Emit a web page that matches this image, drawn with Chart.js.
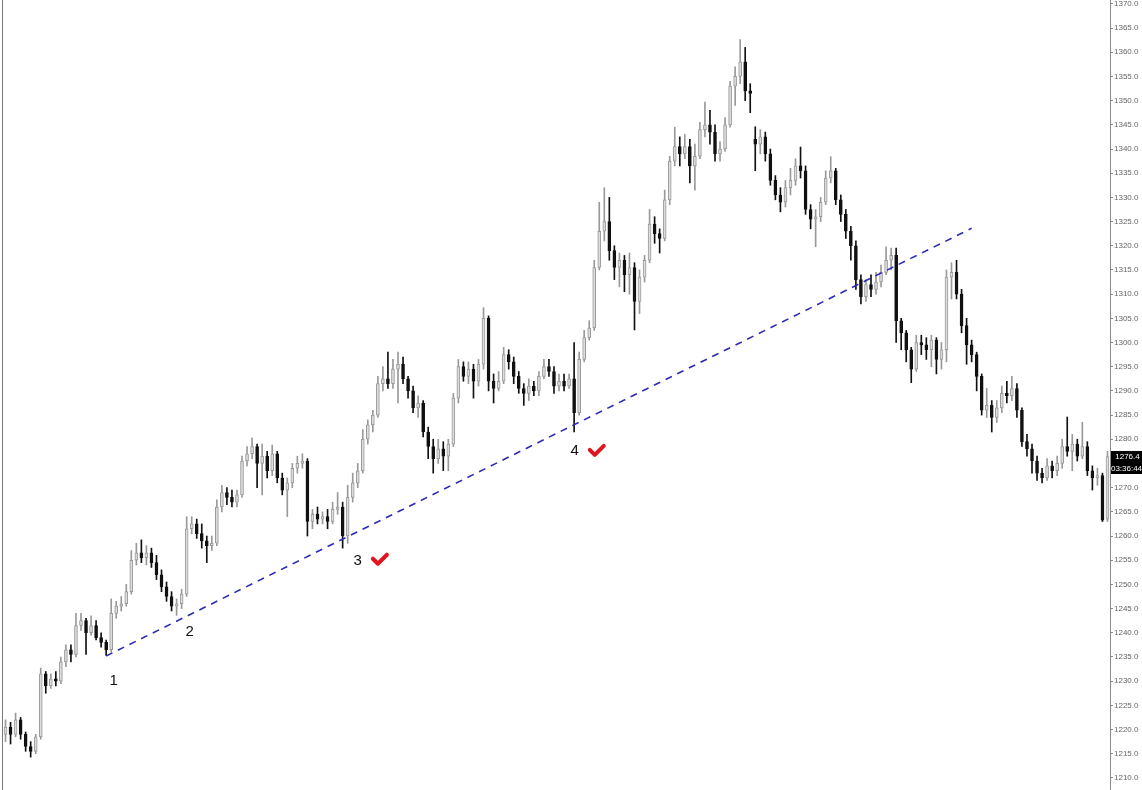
<!DOCTYPE html>
<html>
<head>
<meta charset="utf-8">
<script src="https://cdn.jsdelivr.net/npm/chart.js@4.4.1/dist/chart.umd.min.js"></script>
<style>
  html, body { margin: 0; padding: 0; background: #fff; }
  #wrap { width: 1142px; height: 790px; position: relative; }
</style>
</head>
<body>
<div id="wrap"><canvas id="myChart"></canvas></div>
<script>
// candle data, one entry per bar, left to right
const opens = [
  1219,1220.5,1219,1222,1219,1216.5,1215.5,1218.5,1231.5,1229,
  1230.5,1230,1234,1236.5,1235.5,1241.5,1242.5,1240,1241.5,1239,
  1238,1236.5,1244,1245.5,1246,1248.5,1255,1256.5,1255.5,1256.5,
  1254.5,1252,1249.5,1247.5,1245.5,1246,1248,1261.5,1262.5,1260.5,
  1259,1258,1258.5,1266,1269,1268,1267,1268.5,1275.5,1277,
  1278.5,1275,1276.5,1273.5,1277,1272,1269.5,1271,1274,1275,
  1275.5,1263,1264.5,1263.5,1264,1263,1265.5,1266,1260,1268,
  1271,1273.5,1280,1283,1285,1291.5,1292.5,1291.5,1294.5,1295.5,
  1292.5,1290,1286.5,1287.5,1281.5,1278.5,1276,1278,1276.5,1279,
  1288.5,1295,1293,1294.5,1292,1295.5,1305,1292,1290.5,1292,
  1297.5,1296,1293,1290.5,1289.5,1291,1290,1293,1295,1294,
  1291,1292,1291,1292.5,1285.5,1296.5,1301,1303,1315.5,1323,
  1325,1319,1315.5,1317,1314,1315.5,1308.5,1313.5,1317,1324.5,
  1322.5,1321.5,1329.5,1337.5,1340.5,1339,1340.5,1336.5,1338.5,1344,
  1345,1343.5,1339,1340,1345,1353,1355,1358,1352,1342,
  1341,1342.5,1339,1333.5,1330.5,1329,1332,1333.5,1336.5,1335.5,
  1327.5,1325.5,1326,1329,1334,1335.5,1329.5,1326.5,1323,1320,
  1313,1309.5,1312,1311,1312.5,1314.5,1317,1318,1304.5,1302,
  1298.5,1294.5,1300,1299.5,1298.5,1300.5,1296.5,1298.5,1313.5,1314.5,
  1310,1303.5,1299.5,1297.5,1293,1286,1287,1284.5,1286.5,1289.5,
  1289,1290.5,1286,1279.5,1278,1275.5,1273,1272,1274.5,1273.5,
  1275,1278.5,1277.5,1279,1276.5,1278.5,1273.5,1272,1272.5,1263.5
];
const highs = [
  1222,1221.5,1223.4,1222.5,1219.5,1217.5,1219,1232.7,1232,1231.5,
  1232,1235,1237.5,1237.5,1244,1244,1243,1243.5,1242.5,1240,
  1238.5,1247,1246.5,1247.5,1250,1257,1258.5,1259.2,1258,1257.5,
  1256,1253,1250.5,1248.5,1247,1249,1264,1264,1263.5,1262.5,
  1260,1260,1267.5,1270.5,1270,1269.5,1269.5,1276.5,1278.5,1280.3,
  1279,1279,1277.5,1278.8,1277.5,1273,1272,1275,1276.5,1277,
  1276,1265.5,1266,1265,1265.5,1267,1269,1267,1270.5,1273,
  1275,1282,1284,1286,1293,1295,1298,1296.5,1298,1297,
  1293,1291,1289,1288,1282.5,1280,1280,1279.5,1280,1289.5,
  1296.5,1296,1296,1295.5,1296.5,1307.2,1305.5,1293.5,1294,1299,
  1298.5,1297,1294,1291.5,1292.5,1292,1294,1296.5,1296.5,1295,
  1293.5,1293.5,1293.5,1300,1298,1302.5,1304.5,1317,1329,1332,
  1330,1320,1318.5,1318,1318.5,1316.5,1315,1318,1327.5,1326,
  1323.5,1331.5,1338.5,1344.5,1342.5,1343,1342,1341,1345.5,1349.7,
  1348,1345,1341.5,1346.5,1354,1357,1362.6,1361,1353.5,1344.6,
  1344,1343.5,1340,1334.5,1332,1333.5,1336,1338,1340.4,1336.5,
  1328.5,1327.5,1330,1335.5,1338.4,1336,1330.5,1327.5,1324,1321,
  1314,1313,1314,1314.5,1316,1319.8,1319.5,1319.5,1305,1302.5,
  1299,1301.5,1301.5,1301,1301.5,1301,1300,1315,1316.5,1317,
  1311,1305,1300.5,1298,1293.5,1290.5,1288,1288,1291,1292,
  1293,1291.5,1286.5,1281,1279,1276.5,1274,1276,1275.5,1276.5,
  1280,1284.6,1281,1280,1283.5,1279.5,1274.5,1274,1273,1277.5
];
const lows = [
  1217.5,1217,1218.5,1218,1215.5,1214.3,1215,1218,1227.5,1228.5,
  1229,1229.5,1233,1234,1235,1240.5,1235.5,1239.5,1238.5,1237,
  1235.3,1236,1243,1244.5,1245.5,1248,1254,1254.5,1254,1253.5,
  1251,1248.5,1246.5,1244.5,1243.6,1245,1247.5,1260.5,1259.5,1257.5,
  1254.5,1257,1258,1265,1266.5,1266,1266,1268,1274.5,1276,
  1270,1268.5,1272,1272.5,1271,1268.5,1264,1270,1273,1274,
  1260,1261.5,1262.5,1262.5,1261.5,1262.5,1264.5,1257.5,1258.5,1267,
  1270,1273,1279,1281.5,1284.5,1290,1290.5,1290.5,1287.5,1291.5,
  1288.5,1285.5,1284.5,1280.5,1276,1273,1275,1273.5,1273.5,1278.5,
  1287.5,1292,1291.5,1288.5,1291,1294.5,1290,1287.5,1290,1291.5,
  1294.5,1291.5,1289.5,1287,1288,1289,1289,1292.5,1293,1289.5,
  1290,1290,1290.5,1281.5,1285,1296,1300.5,1302.5,1315,1321,
  1317,1313,1311.5,1310.5,1310,1302.6,1306,1312.5,1316.5,1320.5,
  1318.5,1321,1328.5,1336.5,1336.5,1338,1333,1331.5,1338,1342.5,
  1341,1337.5,1337.5,1339.5,1344.5,1349,1353.5,1350,1347.5,1335.5,
  1339,1337.5,1332.5,1329.5,1327,1328,1330.5,1332.5,1334,1326.5,
  1323.5,1319.8,1325,1328.5,1333,1328.5,1325,1321.5,1317,1311,
  1308,1308.5,1309.5,1310,1311.5,1314,1315,1300,1298.5,1296,
  1291.7,1294,1297.5,1296.5,1295,1293.5,1294.5,1296,1309,1309,
  1302,1295.5,1296,1290,1285,1284.5,1281.5,1283.5,1285.5,1287.5,
  1288,1284.5,1278.5,1276.5,1273,1271.5,1271,1271.5,1272,1272.5,
  1274,1276.5,1273.5,1275.5,1276,1272.5,1269.5,1270.5,1263,1263
];
const closes = [
  1220.5,1219,1222,1219,1216.5,1215.5,1218.5,1231.5,1229,1230.5,
  1230,1234,1236.5,1235.5,1241.5,1242.5,1240,1241.5,1239,1238,
  1236.5,1244,1245.5,1246,1248.5,1255,1256.5,1255.5,1256.5,1254.5,
  1252,1249.5,1247.5,1245.5,1246,1248,1261.5,1262.5,1260.5,1259,
  1258,1258.5,1266,1269,1268,1267,1268.5,1275.5,1277,1278.5,
  1275,1276.5,1273.5,1277,1272,1269.5,1271,1274,1275,1275.5,
  1263,1264.5,1263.5,1264,1263,1265.5,1266,1260,1268,1271,
  1273.5,1280,1283,1285,1291.5,1292.5,1291.5,1294.5,1295.5,1292.5,
  1290,1286.5,1287.5,1281.5,1278.5,1276,1278,1276.5,1279,1288.5,
  1295,1293,1294.5,1292,1295.5,1305,1292,1290.5,1292,1297.5,
  1296,1293,1290.5,1289.5,1291,1290,1293,1295,1294,1291,
  1292,1291,1292.5,1285.5,1296.5,1301,1303,1315.5,1323,1325,
  1319,1315.5,1317,1314,1315.5,1308.5,1313.5,1317,1324.5,1322.5,
  1321.5,1329.5,1337.5,1340.5,1339,1340.5,1336.5,1338.5,1344,1345,
  1343.5,1339,1340,1345,1353,1355,1358,1352,1351.5,1341,
  1342.5,1339,1333.5,1330.5,1329,1332,1333.5,1336.5,1335.5,1327.5,
  1325.5,1326,1329,1334,1335.5,1329.5,1326.5,1323,1320,1313,
  1309.5,1312,1311,1312.5,1314.5,1317,1318,1304.5,1302,1298.5,
  1294.5,1300,1299.5,1298.5,1300.5,1296.5,1298.5,1313.5,1314.5,1310,
  1303.5,1299.5,1297.5,1293,1286,1287,1284.5,1286.5,1289.5,1289,
  1290.5,1286,1279.5,1278,1275.5,1273,1272,1274.5,1273.5,1275,
  1278.5,1277.5,1279,1276.5,1278.5,1273.5,1272,1272.5,1263.3,1276.4
];
const candleLabels = opens.map((_, i) => String(i));

// trend line anchors (bar index, price)
const trendIndex = [20, 192];
const trendPrice = [1235.2, 1323.6];

// swing point numbers and check marks
const markLabels = ['1', '2', '3', '4'];
const markIndex = [21.5, 36.6, 70, 113.1];
const markPrice = [1230.05, 1240.2, 1254.9, 1277.6];
const checkIndex = [74.4, 117.5];
const checkPrice = [1255.1, 1277.6];

// last price tag
const lastPrice = 1276.4;
const lastPriceText = '1276.4';
const countdownText = '03:36:44';

const isUp = closes.map((c, i) => c >= opens[i]);
const bodies = opens.map((o, i) => [o, closes[i]]);
const wicks = lows.map((l, i) => [l, highs[i]]);
const trendLine = candleLabels.map(() => null);
trendIndex.forEach((idx, k) => { trendLine[idx] = trendPrice[k]; });

const FONT = '"Liberation Sans", Arial, sans-serif';

const overlay = {
  id: 'overlay',
  afterDraw(chart) {
    const { ctx, scales: { x, y } } = chart;
    ctx.save();
    // left frame
    ctx.strokeStyle = '#7a7a7a';
    ctx.lineWidth = 1;
    ctx.beginPath();
    ctx.moveTo(2.5, 0);
    ctx.lineTo(2.5, chart.height);
    ctx.stroke();

    // numbers under the lows
    ctx.fillStyle = '#111';
    ctx.font = '15px ' + FONT;
    ctx.textAlign = 'center';
    ctx.textBaseline = 'middle';
    markLabels.forEach((t, k) => {
      ctx.fillText(t, x.getPixelForValue(markIndex[k]), y.getPixelForValue(markPrice[k]));
    });

    // red ticks
    ctx.strokeStyle = '#e3141f';
    ctx.lineWidth = 4;
    ctx.lineCap = 'round';
    ctx.lineJoin = 'round';
    checkIndex.forEach((ci, k) => {
      const cx = x.getPixelForValue(ci);
      const cy = y.getPixelForValue(checkPrice[k]);
      ctx.beginPath();
      ctx.moveTo(cx - 7, cy - 1);
      ctx.lineTo(cx - 2, cy + 4);
      ctx.lineTo(cx + 7, cy - 5);
      ctx.stroke();
    });

    // price tag on the axis
    const py = Math.round(y.getPixelForValue(lastPrice));
    const bx = chart.chartArea.right + 1;
    const bw = chart.width - bx;
    ctx.fillStyle = '#000';
    ctx.fillRect(bx, py - 6, bw, 12);
    ctx.fillRect(bx, py + 6, bw, 11);
    ctx.fillStyle = '#fff';
    ctx.font = '8px ' + FONT;
    ctx.textAlign = 'center';
    ctx.fillText(lastPriceText, bx + bw / 2 + 1, py);
    ctx.fillText(countdownText, bx + bw / 2, py + 12);
    ctx.restore();
  }
};

new Chart(document.getElementById('myChart'), {
  type: 'bar',
  data: {
    labels: candleLabels,
    datasets: [
      {
        type: 'line',
        label: 'Trend',
        data: trendLine,
        borderColor: '#2b2bb3',
        borderWidth: 1.6,
        borderDash: [7, 6],
        pointRadius: 0,
        spanGaps: true,
        order: 0
      },
      {
        label: 'Body',
        data: bodies,
        backgroundColor: isUp.map(u => u ? '#dcdcdc' : '#111'),
        borderColor: isUp.map(u => u ? '#9a9a9a' : '#111'),
        borderWidth: 1,
        borderSkipped: false,
        barThickness: 3,
        minBarLength: 1,
        grouped: false,
        order: 1
      },
      {
        label: 'Wick',
        data: wicks,
        backgroundColor: isUp.map(u => u ? '#999' : '#111'),
        barThickness: 1,
        grouped: false,
        order: 2
      }
    ]
  },
  options: {
    responsive: true,
    maintainAspectRatio: false,
    animation: false,
    layout: { padding: { left: 3, top: 0, right: 0, bottom: 0 } },
    plugins: { legend: { display: false }, tooltip: { enabled: false } },
    scales: {
      x: { display: false, offset: true },
      y: {
        position: 'right',
        min: 1207.5,
        max: 1370.8,
        grid: { drawOnChartArea: false, drawTicks: true, tickLength: 3, color: '#8a8a8a' },
        border: { color: '#8a8a8a' },
        ticks: {
          stepSize: 5,
          includeBounds: false,
          padding: 1,
          color: '#666',
          font: { size: 8, family: FONT },
          callback: v => v.toFixed(1)
        },
        afterFit(scale) {
          scale.width = 32;
          scale.paddingTop = 0;
          scale.paddingBottom = 0;
        }
      }
    }
  },
  plugins: [overlay]
});
</script>
</body>
</html>
